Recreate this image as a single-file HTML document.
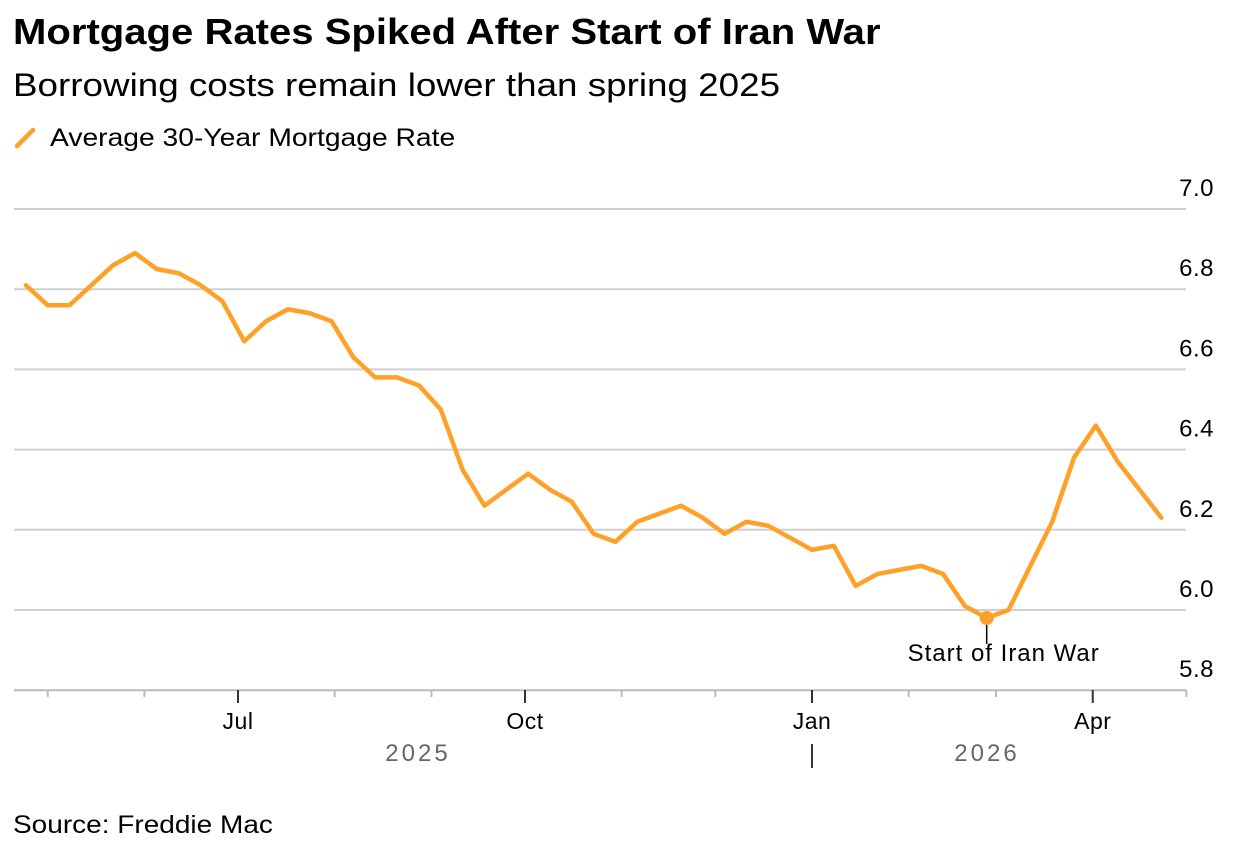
<!DOCTYPE html>
<html><head><meta charset="utf-8"><style>
body{margin:0;width:1248px;height:853px;background:#fff;font-family:"Liberation Sans",sans-serif;overflow:hidden;position:relative}
.t{position:absolute;white-space:nowrap;color:#000;transform-origin:0 0}
</style></head><body>
<div class="t" style="left:13px;top:11px;font-size:36px;font-weight:bold;transform:scaleX(1.113)">Mortgage Rates Spiked After Start of Iran War</div>
<div class="t" style="left:13px;top:67px;font-size:32px;transform:scaleX(1.15)">Borrowing costs remain lower than spring 2025</div>
<div style="position:absolute;left:14px;top:124px;height:28px">
<svg width="26" height="28" style="position:absolute;left:0;top:0"><line x1="3" y1="22" x2="19" y2="6" stroke="#FFA028" stroke-width="4.5" stroke-linecap="round"/></svg>
<span class="t" style="left:36px;top:0;font-size:25px;transform:scaleX(1.13)">Average 30-Year Mortgage Rate</span></div>
<div class="t" style="left:13px;top:811px;font-size:25px;transform:scaleX(1.12)">Source: Freddie Mac</div>
<svg id="chart" width="1248" height="853" style="position:absolute;left:0;top:0"></svg>
<script>
const values=[6.81,6.76,6.76,6.81,6.86,6.89,6.85,6.84,6.81,6.77,6.67,6.72,6.75,6.74,6.72,6.63,6.58,6.58,6.56,6.50,6.35,6.26,6.30,6.34,6.30,6.27,6.19,6.17,6.22,6.24,6.26,6.23,6.19,6.22,6.21,6.18,6.15,6.16,6.06,6.09,6.10,6.11,6.09,6.01,5.98,6.00,6.11,6.22,6.38,6.46,6.37,6.30,6.23];
const startDate="2025-04-24";
const yTicks=[5.8,6.0,6.2,6.4,6.6,6.8,7.0];
const monthTicks=["2025-05-01","2025-06-01","2025-07-01","2025-08-01","2025-09-01","2025-10-01","2025-11-01","2025-12-01","2026-01-01","2026-02-01","2026-03-01","2026-04-01","2026-05-01"];
const monthLabels={"2025-07-01":"Jul","2025-10-01":"Oct","2026-01-01":"Jan","2026-04-01":"Apr"};
const eventIndex=44;
const eventLabel="Start of Iran War";
const NS="http://www.w3.org/2000/svg";
const svg=document.getElementById('chart');
const DAY=86400000;
const d0=Date.parse("2025-07-01"), d1=Date.parse("2026-01-01");
const x=t=>238+(t-d0)/(d1-d0)*(812-238);
const y=v=>610-(v-6.0)*401;
function mk(tag,at){const e=document.createElementNS(NS,tag);for(const k in at)e.setAttribute(k,at[k]);svg.appendChild(e);return e;}
yTicks.forEach(v=>{
  const g=mk('line',{x1:14,x2:1186,y1:y(v),y2:y(v),stroke:v===5.8?'#bbb':'#d0d0d0','stroke-width':2});
  
  
  const t=mk('text',{x:1214,y:y(v)-13,'text-anchor':'end','font-size':24,'letter-spacing':0.5,'font-family':'Liberation Sans, sans-serif',fill:'#000'});
  t.textContent=v.toFixed(1);
  
  
});
monthTicks.forEach(d=>{
  const xx=x(Date.parse(d));const maj=!!monthLabels[d];
  const l=mk('line',{x1:xx,x2:xx,y1:690,y2:maj?703:697,stroke:maj?'#333':'#bbb','stroke-width':2});
  
  
  if(maj){const t=mk('text',{x:xx,y:729,'text-anchor':'middle','font-size':23,'letter-spacing':0.5,'font-family':'Liberation Sans, sans-serif',fill:'#000'});
    t.textContent=monthLabels[d];
    
    }
});
[["2025",418],["2026",987]].forEach(([s,xx])=>{const t=mk('text',{x:xx,y:761,'text-anchor':'middle','font-size':24,'letter-spacing':3,'font-family':'Liberation Sans, sans-serif',fill:'#666'});t.textContent=s;
  
  });
const sep=mk('line',{x1:812,x2:812,y1:744,y2:768,stroke:'#333','stroke-width':2});


const s0=Date.parse(startDate);
const pts=values.map((v,i)=>[x(s0+i*7*DAY),y(v)]);
const p=mk('polyline',{points:pts.map(q=>q.join(',')).join(' '),fill:'none',stroke:'#FFA028','stroke-width':4.5,'stroke-linejoin':'round','stroke-linecap':'round'});


const ep=pts[eventIndex];
const el=mk('line',{x1:ep[0],x2:ep[0],y1:ep[1],y2:ep[1]+26,stroke:'#000','stroke-width':1.5});


const c=mk('circle',{cx:ep[0],cy:ep[1],r:7,fill:'#FFA028'});


const at=mk('text',{x:ep[0]+17,y:ep[1]+43,'text-anchor':'middle','font-size':24,'letter-spacing':1,'font-family':'Liberation Sans, sans-serif',fill:'#000'});
at.textContent=eventLabel;


</script>
</body></html>
